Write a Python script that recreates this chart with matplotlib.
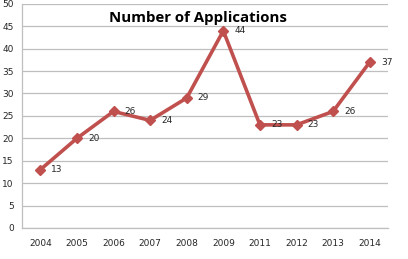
import matplotlib
matplotlib.use('Agg')
from matplotlib import pyplot as plt

years = ['2004', '2005', '2006', '2007', '2008', '2009', '2011', '2012', '2013', '2014']
applications = [13, 20, 26, 24, 29, 44, 23, 23, 26, 37]
y_ticks = [0, 5, 10, 15, 20, 25, 30, 35, 40, 45, 50]

line_colour = '#C0504D'
grid_colour = '#BFBFBF'
text_colour = '#262626'

fig = plt.figure(figsize=(4.08, 2.59), dpi=100)
ax = fig.add_axes([0.054, 0.12, 0.897, 0.865])

x = list(range(len(years)))
ax.plot(x, applications, color=line_colour, linewidth=2.6, marker='D',
        markersize=5.5, zorder=3)

for xi, v in zip(x, applications):
    ax.annotate(str(v), (xi, v), xytext=(8, 0), textcoords='offset points',
                va='center', ha='left', fontsize=6.5, color=text_colour,
                family='DejaVu Sans')

ax.set_xlim(-0.5, len(years) - 0.5)
ax.set_ylim(0, 50)
ax.set_xticks(x)
ax.set_xticklabels(years)
ax.set_yticks(y_ticks)
ax.tick_params(axis='both', length=0, labelsize=6.5, colors=text_colour)
ax.tick_params(axis='x', pad=8)
ax.tick_params(axis='y', pad=6)
ax.grid(axis='y', color=grid_colour, linewidth=0.9)
ax.set_axisbelow(True)

for side in ['top', 'right']:
    ax.spines[side].set_visible(False)
for side in ['left', 'bottom']:
    ax.spines[side].set_color(grid_colour)
    ax.spines[side].set_linewidth(0.9)

fig.text(0.485, 0.932, 'Number of Applications', ha='center', va='center',
         fontsize=10.8, fontweight='bold', family='Open Sans', color='black')

fig.savefig('out.png', dpi=100)
